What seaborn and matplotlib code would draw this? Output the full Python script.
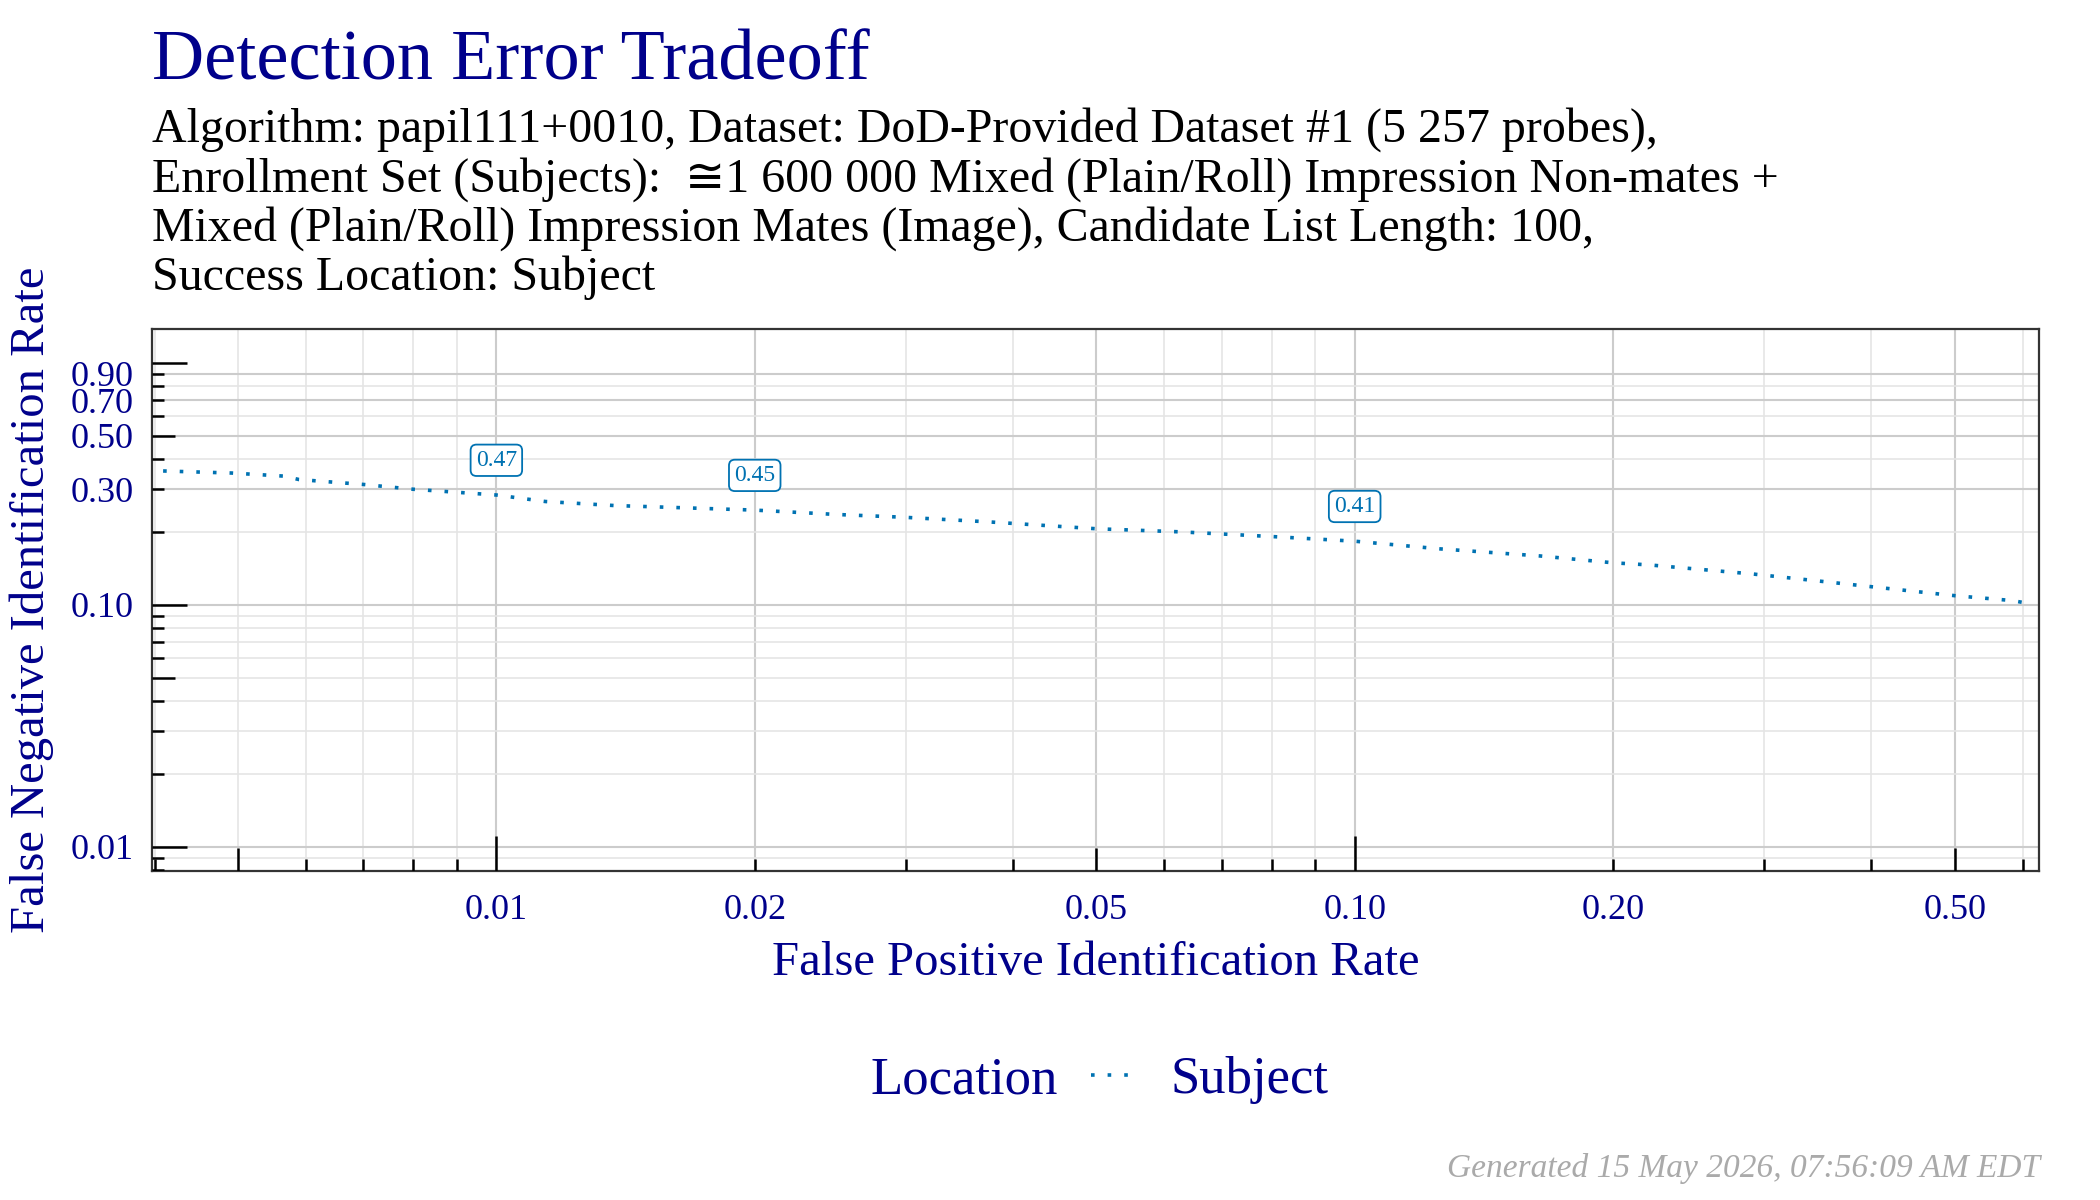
import numpy as np
import pandas as pd
import seaborn as sns
import matplotlib.pyplot as plt
from matplotlib.ticker import FixedLocator, NullFormatter

# DET curve (FPIR vs FNIR, log-log)
fpir = [0.00409, 0.00492, 0.00565, 0.00589, 0.0070, 0.0080, 0.0100, 0.0114, 0.0137,
        0.0200, 0.0249, 0.0297, 0.0374, 0.0500, 0.0627, 0.0807, 0.1000, 0.1260,
        0.1645, 0.2000, 0.2206, 0.2906, 0.3350, 0.4600, 0.5000, 0.5840, 0.6180]
fnir = [0.357, 0.350, 0.340, 0.329, 0.314, 0.300, 0.284, 0.267, 0.257,
        0.246, 0.236, 0.230, 0.220, 0.206, 0.200, 0.191, 0.183, 0.170,
        0.159, 0.149, 0.146, 0.134, 0.127, 0.1125, 0.109, 0.104, 0.1003]
location = 'Subject'

# threshold labels
label_fpir = [0.01, 0.02, 0.10]
label_fnir = [0.284, 0.246, 0.183]
label_text = ['0.47', '0.45', '0.41']

x_breaks = [0.01, 0.02, 0.05, 0.10, 0.20, 0.50]
y_breaks = [0.01, 0.10, 0.30, 0.50, 0.70, 0.90]
x_minor = [0.004, 0.005, 0.006, 0.007, 0.008, 0.009, 0.03, 0.04, 0.06, 0.07, 0.08, 0.09, 0.3, 0.4, 0.6]
y_minor = [0.009, 0.02, 0.03, 0.04, 0.05, 0.06, 0.07, 0.08, 0.09, 0.2, 0.4, 0.6, 0.8]
x_lim = (0.00397, 0.627)
y_lim = (0.00796, 1.382)

title = 'Detection Error Tradeoff'
subtitle = ['Algorithm: papil111+0010, Dataset: DoD-Provided Dataset #1 (5 257 probes),',
            'Enrollment Set (Subjects):  \u22451 600 000 Mixed (Plain/Roll) Impression Non-mates +',
            'Mixed (Plain/Roll) Impression Mates (Image), Candidate List Length: 100,',
            'Success Location: Subject']
footer = 'Generated 15 May 2026, 07:56:09 AM EDT'

blue = '#00008B'
line_color = '#0072B2'

sns.set_style('white')
plt.rcParams['font.family'] = ['Liberation Serif', 'DejaVu Serif', 'DejaVu Sans']

df = pd.DataFrame({'fpir': fpir, 'fnir': fnir, 'Location': location})

fig = plt.figure(figsize=(21, 12), dpi=100)
ax = fig.add_axes([152 / 2100, 1 - 870.7 / 1200, 1887 / 2100, 542 / 1200])

sns.lineplot(data=df, x='fpir', y='fnir', hue='Location', style='Location',
             palette={location: line_color}, dashes={location: (1, 3.6)},
             linewidth=2.6, ax=ax, legend=False)
ax.lines[0].set_dash_capstyle('butt')

ax.set_xscale('log')
ax.set_yscale('log')
ax.set_xlim(*x_lim)
ax.set_ylim(*y_lim)

ax.set_xticks(x_breaks)
ax.set_xticklabels(['%.2f' % v for v in x_breaks])
ax.set_yticks(y_breaks)
ax.set_yticklabels(['%.2f' % v for v in y_breaks])
ax.xaxis.set_minor_locator(FixedLocator(x_minor))
ax.yaxis.set_minor_locator(FixedLocator(y_minor))
ax.xaxis.set_minor_formatter(NullFormatter())
ax.yaxis.set_minor_formatter(NullFormatter())

ax.tick_params(which='minor', length=0)
ax.tick_params(which='major', direction='out', length=7.5, width=1.5, color='#333333',
               labelcolor=blue, labelsize=26)
ax.tick_params(axis='x', which='major', pad=9)
ax.tick_params(axis='y', which='major', pad=6)

ax.grid(which='major', color='#CCCCCC', lw=1.5)
ax.grid(which='minor', color='#E5E5E5', lw=1.2)
ax.set_axisbelow(True)
for s in ax.spines.values():
    s.set_color('#333333')
    s.set_linewidth(1.6)

# log ticks inside the panel (bottom and left)
logticks = [m * 10.0 ** e for e in (-3, -2, -1, 0) for m in range(1, 10)]
for v in logticks:
    m = round(v / 10 ** np.floor(np.log10(v) + 1e-9))
    size = 35 if m == 1 else (23 if m == 5 else 12)
    if x_lim[0] <= v <= x_lim[1]:
        ax.vlines(v, 0, size / 542, transform=ax.get_xaxis_transform(), color='black', lw=1.8, zorder=3)
    if y_lim[0] <= v <= y_lim[1]:
        ax.hlines(v, 0, size / 1887, transform=ax.get_yaxis_transform(), color='black', lw=1.8, zorder=3)

for x, y, t in zip(label_fpir, label_fnir, label_text):
    ax.annotate(t, (x, y), xytext=(0, 25), textcoords='offset points', ha='center', va='center',
                fontsize=17, color=line_color, zorder=5,
                bbox=dict(boxstyle='round,pad=0.22,rounding_size=0.25', fc='white', ec=line_color, lw=1.3))

ax.set_xlabel('False Positive Identification Rate', fontsize=35, color=blue, labelpad=10)
ax.set_ylabel('False Negative Identification Rate', fontsize=35, color=blue)
ax.yaxis.set_label_coords(-0.052, 0.5)

fig.text(152 / 2100, 1 - 79 / 1200, title, fontsize=52, color=blue, va='baseline')
for i, line in enumerate(subtitle):
    fig.text(152 / 2100, 1 - (142 + 49.3 * i) / 1200, line, fontsize=34.5, color='black', va='baseline')

fig.text(1058 / 2100, 0.1, 'Location', fontsize=38, color=blue, ha='right', va='center')
fig.legend(handles=[ax.lines[0]], labels=[location], loc='center left',
           bbox_to_anchor=(1070 / 2100, 0.1), frameon=False, fontsize=38, borderaxespad=0,
           handlelength=0.9, handletextpad=0.6, labelcolor=blue)

fig.text(2040 / 2100, 1 - 1168 / 1200, footer, fontsize=24, color='#AAAAAA', style='italic',
         ha='right', va='center')

fig.savefig('out.png', dpi=100)
